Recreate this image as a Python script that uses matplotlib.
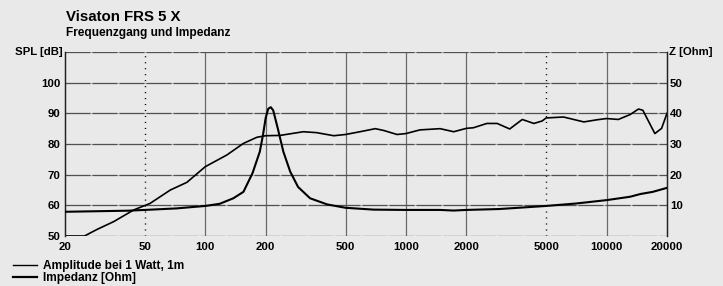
import numpy as np
import matplotlib.pyplot as plt
from matplotlib.lines import Line2D

plt.rcParams["font.family"] = ["Liberation Sans", "DejaVu Sans"]
plt.rcParams["font.weight"] = "bold"

# SPL curve (dB)
spl_freq = [20, 25, 29, 35, 44, 53, 67, 81, 100, 128, 155, 181, 200, 236, 308, 359, 437, 500,
            590, 704, 776, 903, 1000, 1175, 1480, 1730, 2000, 2170, 2530, 2850, 3290, 3800, 4340,
            4770, 5000, 6100, 7700, 8960, 10000, 11440, 13100, 14420, 15160, 17400, 18800, 20000]
spl_db = [50, 50, 52.2, 54.7, 58.5, 60.6, 65, 67.5, 72.6, 76.4, 80.2, 82.2, 82.7, 82.8, 84.0, 83.7, 82.7, 83.1,
          84.0, 85.0, 84.4, 83.1, 83.4, 84.6, 85.0, 84.0, 85.1, 85.3, 86.7, 86.7, 84.9, 88.0, 86.7,
          87.5, 88.5, 88.8, 87.2, 87.9, 88.3, 88.0, 89.6, 91.4, 91.0, 83.4, 85.1, 90.0]

# impedance curve (Ohm)
imp_freq = [20, 41, 50, 72, 100, 118, 138, 155, 172, 187, 194, 200, 206, 212, 218, 230, 245, 265,
            290, 333, 405, 500, 690, 1000, 1480, 1730, 2000, 2930, 5000, 7050, 10000, 13100, 14760,
            17000, 20000]
imp_ohm = [7.9, 8.25, 8.5, 9.0, 9.8, 10.5, 12.3, 14.4, 20.5, 27.5, 33, 38.5, 41.5, 42, 41, 35, 27.5, 21,
           16, 12.3, 10.3, 9.2, 8.6, 8.5, 8.5, 8.3, 8.5, 8.8, 9.8, 10.6, 11.7, 12.8, 13.7,
           14.4, 15.7]

x_ticks = [20, 50, 100, 200, 500, 1000, 2000, 5000, 10000, 20000]
solid_vlines = [100, 200, 500, 1000, 2000, 10000]
dotted_vlines = [50, 5000]
spl_ticks = [50, 60, 70, 80, 90, 100]
ohm_ticks = [10, 20, 30, 40, 50]

bg = "#e9e9e9"
fig = plt.figure(figsize=(7.23, 2.86), dpi=100, facecolor=bg)
ax = fig.add_axes([65 / 723, 1 - 236 / 286, 602 / 723, 184 / 286])
ax.set_facecolor(bg)
ax.set_xscale("log")
ax.set_xlim(20, 20000)
ax.set_ylim(50, 110)

# grid
for y in range(50, 111, 10):
    ax.axhline(y, color="#b4b4b4", lw=0.8, zorder=1)
    ax.axhline(y, color="#505050", lw=0.9, dashes=(20, 1.6), zorder=1.1)
for x in solid_vlines:
    ax.axvline(x, color="#6a6a6a", lw=0.9, zorder=1)
for x in dotted_vlines:
    ax.axvline(x, color="black", lw=1.0, ls=(0, (0.8, 3.5)), zorder=1)

for s in ["top", "bottom"]:
    ax.spines[s].set_visible(False)
for s in ["left", "right"]:
    ax.spines[s].set_color("#222222")
    ax.spines[s].set_linewidth(1.0)

ax.set_xticks(x_ticks)
ax.set_xticklabels([str(t) for t in x_ticks])
ax.minorticks_off()
ax.set_yticks(spl_ticks)
ax.tick_params(axis="both", length=0, labelsize=8.2, pad=3)
ax.tick_params(axis="x", pad=4)
for lab in ax.get_xticklabels() + ax.get_yticklabels():
    lab.set_fontweight("bold")

ax2 = ax.twinx()
ax2.set_ylim(0, 60)
ax2.set_yticks(ohm_ticks)
ax2.tick_params(axis="y", length=0, labelsize=8.2, pad=2)
for lab in ax2.get_yticklabels():
    lab.set_fontweight("bold")
for s in ["top", "bottom"]:
    ax2.spines[s].set_visible(False)
for s in ["left", "right"]:
    ax2.spines[s].set_color("#222222")

ax.plot(spl_freq, spl_db, color="black", lw=1.2, zorder=3)
ax2.plot(imp_freq, imp_ohm, color="black", lw=1.5, zorder=3)

ax.text(-0.004, 1.0, "SPL [dB]", transform=ax.transAxes, ha="right", va="center",
        fontsize=8.2, fontweight="bold")
ax.text(1.004, 1.0, "Z [Ohm]", transform=ax.transAxes, ha="left", va="center",
        fontsize=8.2, fontweight="bold")

fig.text(66 / 723, 1 - 17 / 286, "Visaton FRS 5 X", ha="left", va="center",
         fontsize=10.8, fontweight="bold")
fig.text(66 / 723, 1 - 33 / 286, "Frequenzgang und Impedanz", ha="left", va="center",
         fontsize=8.6, fontweight="bold")

handles = [Line2D([], [], color="black", lw=1.0), Line2D([], [], color="black", lw=1.6)]
fig.legend(handles, ["Amplitude bei 1 Watt, 1m", "Impedanz [Ohm]"], loc="upper left",
           bbox_to_anchor=(11 / 723, 1 - 258 / 286), frameon=False, handlelength=2.0,
           handletextpad=0.45, labelspacing=0.0, borderaxespad=0.0, borderpad=0.2,
           prop={"size": 8.6, "weight": "bold"})

fig.savefig("out.png", dpi=100, facecolor=bg)
